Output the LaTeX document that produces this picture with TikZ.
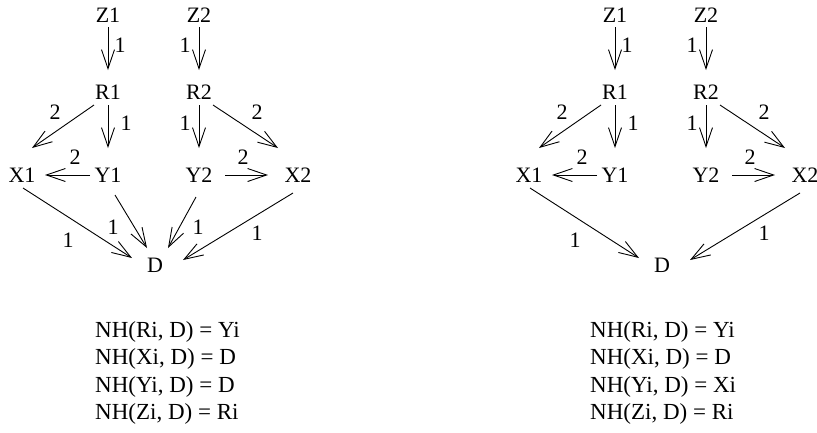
\documentclass[tikz,border=0pt]{standalone}
\usepackage{fontspec}
\setmainfont{Liberation Serif}
\usetikzlibrary{arrows.meta}
\tikzset{
  no/.style={inner sep=0pt,text height=15pt,text depth=0pt,font=\fontsize{22}{26}\selectfont},
  seta/.style={line width=0.9pt,-{Straight Barb[length=19pt,width=13pt]}},
  peso/.style={inner sep=0pt,font=\fontsize{22}{26}\selectfont},
  regra/.style={anchor=west,inner sep=0pt,text height=15pt,text depth=0pt,font=\fontsize{23}{27}\selectfont},
}
\begin{document}
\begin{tikzpicture}[x=1pt,y=-1pt]
  \useasboundingbox (0,0) rectangle (817,432);
  \foreach \dx/\lado/\tx/\yres in {0/e/95/D,507/d/83/Xi} {
  \begin{scope}[xshift=\dx,name prefix=\lado-]
    % nos
    \node[no] (z1) at (108,15) {Z1};
    \node[no] (z2) at (199,15) {Z2};
    \node[no] (r1) at (108,92) {R1};
    \node[no] (r2) at (199,92) {R2};
    \node[no] (x1) at (22,175) {X1};
    \node[no] (y1) at (108,175) {Y1};
    \node[no] (y2) at (199,175) {Y2};
    \node[no] (x2) at (298,175) {X2};
    \node[no] (d) at (155,265) {D};
    % arcos
    \draw[seta] ([shift={(0,12)}]z1.center) -- node[peso,shift={(12,-3.5)}] {1} ([shift={(0,-22)}]r1.center);
    \draw[seta] ([shift={(0,12)}]z2.center) -- node[peso,shift={(-14,-3.5)}] {1} ([shift={(0,-22)}]r2.center);
    \draw[seta] ([shift={(0,13)}]r1.center) -- node[peso,shift={(18,-3.5)}] {1} ([shift={(0,-27)}]y1.center);
    \draw[seta] ([shift={(0,13)}]r2.center) -- node[peso,shift={(-14,-3.5)}] {1} ([shift={(0,-27)}]y2.center);
    \draw[seta] ([shift={(-14,13)}]r1.center) -- node[peso,shift={(-8,-14.5)}] {2} ([shift={(10,-27)}]x1.center);
    \draw[seta] ([shift={(14,13)}]r2.center) -- node[peso,shift={(11.5,-14.5)}] {2} ([shift={(-20,-27)}]x2.center);
    \draw[seta] ([shift={(-18,0)}]y1.center) -- node[peso,shift={(7.5,-18)}] {2} ([shift={(23,0)}]x1.center);
    \draw[seta] ([shift={(26,0)}]y2.center) -- node[peso,shift={(-3.5,-18)}] {2} ([shift={(-30,0)}]x2.center);
    \draw[seta] ([shift={(1,13)}]x1.center) -- node[peso,shift={(-9.5,17)}] {1} ([shift={(-23,-7)}]d.center);
    \draw[seta] ([shift={(-5,18)}]x2.center) -- node[peso,shift={(19,6.5)}] {1} ([shift={(28,-5)}]d.center);
    % tabela
    \node[regra] (nh1) at (\tx,330) {NH(Ri, D) = Yi};
    \node[regra] (nh2) at (\tx,357) {NH(Xi, D) = D};
    \node[regra] (nh3) at (\tx,385) {NH(Yi, D) = \yres};
    \node[regra] (nh4) at (\tx,412) {NH(Zi, D) = Ri};
  \end{scope}
  }
  % so no primeiro: Yi -> D
  \draw[seta] ([shift={(7,20)}]e-y1.center) -- node[peso,shift={(-18,5.5)}] {1} ([shift={(-8,-17)}]e-d.center);
  \draw[seta] ([shift={(-3,22)}]e-y2.center) -- node[peso,shift={(16,4.5)}] {1} ([shift={(13,-17)}]e-d.center);
\end{tikzpicture}
\end{document}
